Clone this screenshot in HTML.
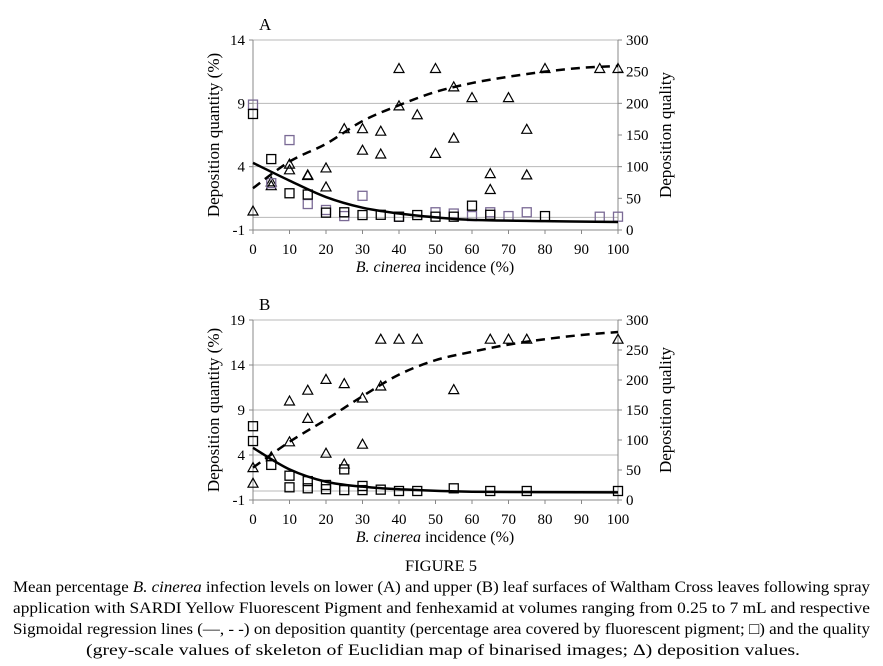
<!DOCTYPE html>
<html><head><meta charset="utf-8"><style>
body{margin:0;background:#fff;}
svg{display:block;font-family:"Liberation Serif",serif;}
</style></head><body>
<svg id="fig" width="883" height="666" viewBox="0 0 883 666">
<g id="panelA"></g>
<g id="panelB"></g>
<g font-size="16" fill="#000">
<text x="441" y="571" text-anchor="middle" textLength="72" lengthAdjust="spacingAndGlyphs">FIGURE 5</text>
<text x="13" y="592" textLength="857" lengthAdjust="spacingAndGlyphs">Mean percentage <tspan font-style="italic">B. cinerea</tspan> infection levels on lower (A) and upper (B) leaf surfaces of Waltham Cross leaves following spray</text>
<text x="13" y="613" textLength="857" lengthAdjust="spacingAndGlyphs">application with SARDI Yellow Fluorescent Pigment and fenhexamid at volumes ranging from 0.25 to 7 mL and respective</text>
<text x="13" y="634" textLength="857" lengthAdjust="spacingAndGlyphs">Sigmoidal regression lines (—, - -) on deposition quantity (percentage area covered by fluorescent pigment; □) and the quality</text>
<text x="86" y="655" textLength="714" lengthAdjust="spacingAndGlyphs">(grey-scale values of skeleton of Euclidian map of binarised images; Δ) deposition values.</text>
</g>
</svg>
<script>
// ---- Panel A data ----
const aTriX = [0,5,5,10,10,15,15,20,20,25,30,30,35,35,40,40,45,50,50,55,55,60,65,65,70,75,75,80,95,100];
const aTriY = [30,76,70,104,95,86,87,98,68,160,160,126,156,120,255,196,182,255,121,226,145,209,89,64,209,159,87,255,255,255];
const aSqBlackX = [0,5,10,15,20,25,30,35,40,45,50,55,60,65,80];
const aSqBlackY = [8.16,4.6,1.9,1.8,0.37,0.4,0.18,0.2,0.05,0.18,0.05,0.05,0.92,0.2,0.1];
const aSqPurpleX = [0,5,10,15,20,25,30,40,50,55,60,65,70,75,95,100];
const aSqPurpleY = [8.9,2.7,6.1,1.05,0.58,0.1,1.7,0.05,0.4,0.3,0.1,0.4,0.1,0.4,0.05,0.05];
const aSolidX = [0,10,20,30,40,50,60,80,100];
const aSolidY = [4.3,2.9,1.6,0.76,0.3,0,-0.2,-0.3,-0.37];
const aDashX = [0,10,20,30,40,50,60,70,80,90,100];
const aDashY = [66,108,136,172,197,218,232,242,250,256,259];
const aLeftTicks = [14,9,4,-1];
// ---- Panel B data ----
const bTriX = [0,0,5,10,10,15,15,20,20,25,25,30,30,35,35,40,45,55,65,70,75,100];
const bTriY = [54,28,72,165,97,183,136,201,78,194,60,170,93,268,190,268,268,184,268,268,268,268];
const bSqX = [0,0,5,10,10,15,15,20,20,25,25,30,30,35,40,45,55,65,75,100];
const bSqY = [7.2,5.55,2.9,1.7,0.41,1.1,0.3,0.67,0.2,2.4,0.1,0.56,0.1,0.15,0,0,0.3,0,0,0];
const bSolidX = [0,10,20,30,40,60,100];
const bSolidY = [4.8,2.4,1.03,0.48,0.2,-0.08,-0.15];
const bDashX = [0,10,20,30,40,50,60,70,80,90,100];
const bDashY = [54,97,134,173,209,233,247,259,268,275,280];
const bLeftTicks = [19,14,9,4,-1];
const xTicks = [0,10,20,30,40,50,60,70,80,90,100];
const rightTicks = [0,50,100,150,200,250,300];

const NS='http://www.w3.org/2000/svg';
function mk(tag,attrs,parent){const e=document.createElementNS(NS,tag);for(const k in attrs)e.setAttribute(k,attrs[k]);parent.appendChild(e);return e;}
function smooth(pts){let d='M'+pts[0][0]+','+pts[0][1];for(let i=0;i<pts.length-1;i++){const p0=pts[Math.max(0,i-1)],p1=pts[i],p2=pts[i+1],p3=pts[Math.min(pts.length-1,i+2)];const c1=[p1[0]+(p2[0]-p0[0])/6,p1[1]+(p2[1]-p0[1])/6],c2=[p2[0]-(p3[0]-p1[0])/6,p2[1]-(p3[1]-p1[1])/6];d+=' C'+c1+' '+c2+' '+p2;}return d;}

function panel(g,cfg){
  const X0=253,X1=618,top=cfg.top,bot=cfg.bot;
  const xs=v=>X0+(v/100)*(X1-X0);
  const yl=v=>bot-(v-cfg.lmin)/(cfg.lmax-cfg.lmin)*(bot-top);
  const yr=v=>bot-v/300*(bot-top);
  cfg.lticks.concat([0]).forEach(t=>{
    if(t===cfg.lmin)return;
    const l=mk('line',{x1:X0,x2:X1,y1:yl(t),y2:yl(t),stroke:'#b8b8b8','stroke-width':1},g);
    
    
  });
  const ax=mk('path',{d:`M${X0},${top} V${bot} H${X1} V${top}`,fill:'none',stroke:'#888','stroke-width':1},g);
  
  
  cfg.lticks.forEach(t=>{
    mk('line',{x1:X0-4,x2:X0,y1:yl(t),y2:yl(t),stroke:'#888'},g);
    const tx=mk('text',{x:X0-8,y:yl(t)+5,'text-anchor':'end','font-size':15},g);tx.textContent=t;
    
    
  });
  rightTicks.forEach(t=>{
    mk('line',{x1:X1,x2:X1+4,y1:yr(t),y2:yr(t),stroke:'#888'},g);
    const tx=mk('text',{x:X1+8,y:yr(t)+5,'font-size':15},g);tx.textContent=t;
    
    
  });
  xTicks.forEach(t=>{
    mk('line',{x1:xs(t),x2:xs(t),y1:bot,y2:bot+4,stroke:'#888'},g);
    const tx=mk('text',{x:xs(t),y:bot+24,'text-anchor':'middle','font-size':15},g);tx.textContent=t;
    
    
  });
  const xt=mk('text',{x:435,y:bot+42,'text-anchor':'middle','font-size':16},g);
  xt.innerHTML='<tspan font-style="italic">B. cinerea</tspan> incidence (%)';
  
  
  const ym=(top+bot)/2;
  const ylt=mk('text',{x:0,y:0,transform:`translate(219,${ym}) rotate(-90)`,'text-anchor':'middle','font-size':17},g);
  ylt.textContent='Deposition quantity (%)';
  
  
  const yrt=mk('text',{x:0,y:0,transform:`translate(671,${ym}) rotate(-90)`,'text-anchor':'middle','font-size':17},g);
  yrt.textContent='Deposition quality';
  
  
  const lab=mk('text',{x:259,y:top-10,'font-size':17},g);lab.textContent=cfg.label;
  
  
  cfg.tri[0].forEach((x,i)=>{
    const cx=xs(x),cy=yr(cfg.tri[1][i]);
    const p=mk('path',{d:`M${cx},${cy-5} L${cx+5},${cy+4} L${cx-5},${cy+4} Z`,fill:'none',stroke:'#000','stroke-width':1.2},g);
    
    
  });
  cfg.sq.forEach(s=>{
    s.x.forEach((x,i)=>{
      const cx=xs(x),cy=yl(s.y[i]);
      const r=mk('rect',{x:cx-4.5,y:cy-4.5,width:9,height:9,fill:'none',stroke:s.c,'stroke-width':1.3},g);
      
      
    });
  });
  const sp=mk('path',{d:smooth(cfg.solid[0].map((x,i)=>[xs(x),yl(cfg.solid[1][i])])),fill:'none',stroke:'#000','stroke-width':2.5},g);
  
  
  const dp=mk('path',{d:smooth(cfg.dash[0].map((x,i)=>[xs(x),yr(cfg.dash[1][i])])),fill:'none',stroke:'#000','stroke-width':2.5,'stroke-dasharray':'9,6'},g);
  
  
}
panel(document.getElementById('panelA'),{top:40,bot:230,lmin:-1,lmax:14,lticks:aLeftTicks,label:'A',
  tri:[aTriX,aTriY],sq:[{x:aSqPurpleX,y:aSqPurpleY,c:'#7a6a95'},{x:aSqBlackX,y:aSqBlackY,c:'#000'}],
  solid:[aSolidX,aSolidY],dash:[aDashX,aDashY]});
panel(document.getElementById('panelB'),{top:320,bot:500,lmin:-1,lmax:19,lticks:bLeftTicks,label:'B',
  tri:[bTriX,bTriY],sq:[{x:bSqX,y:bSqY,c:'#000'}],
  solid:[bSolidX,bSolidY],dash:[bDashX,bDashY]});
</script>
</body></html>
